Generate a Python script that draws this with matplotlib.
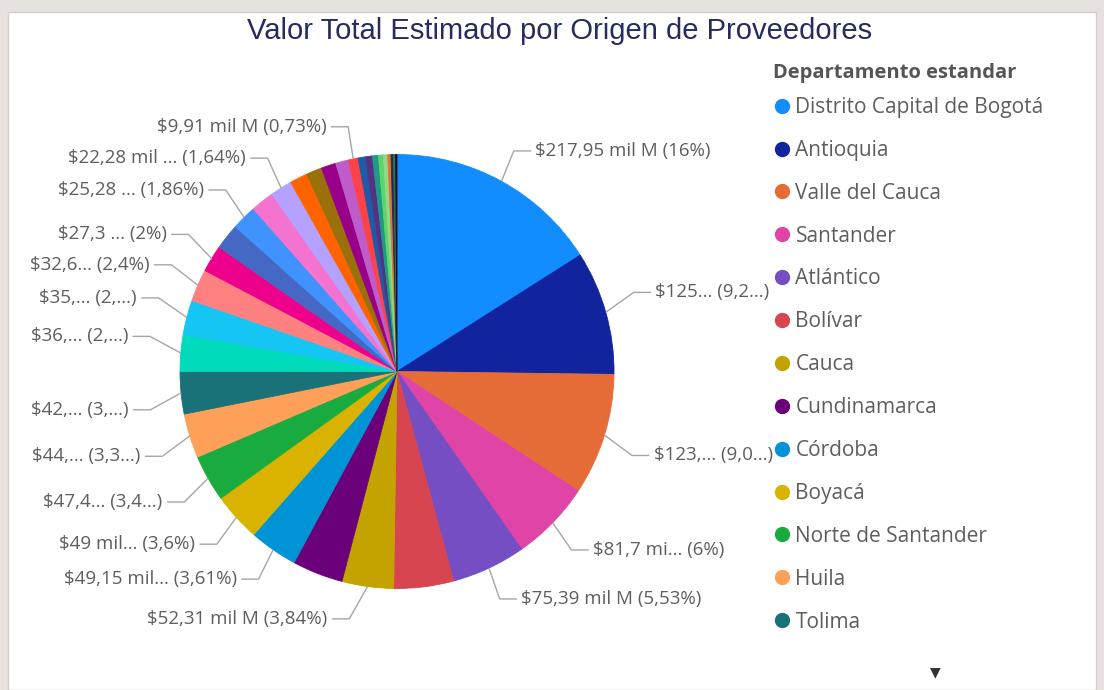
import numpy as np
import matplotlib
matplotlib.use("Agg")
import matplotlib.pyplot as plt
from matplotlib.lines import Line2D
from matplotlib.patches import Rectangle

# valores en miles de millones (mil M), ordenados como en el gráfico
departamentos = [
    "Distrito Capital de Bogotá", "Antioquia", "Valle del Cauca", "Santander",
    "Atlántico", "Bolívar", "Cauca", "Cundinamarca", "Córdoba", "Boyacá",
    "Norte de Santander", "Huila", "Tolima", "Meta", "Magdalena", "Nariño",
    "Caldas", "Risaralda", "Cesar", "Quindío", "Sucre", "La Guajira",
    "Casanare", "Chocó", "Caquetá", "Putumayo", "Arauca", "San Andrés",
    "Amazonas", "Guaviare", "Vichada", "Vaupés", "Guainía", "Extranjero",
    "No Definido",
]
valores = [
    217.95, 125.6, 123.4, 81.72, 75.39, 60.6, 52.31, 51.5, 49.15, 49.03,
    47.45, 44.98, 42.9, 36.9, 35.4, 32.65, 27.32, 26.2, 25.28, 23.6,
    22.28, 18.0, 16.0, 15.0, 13.0, 9.91, 7.5, 7.0, 6.0, 5.0,
    4.3, 3.3, 2.6, 2.0, 1.4,
]
colores = [
    "#118DFF", "#12239E", "#E66C37", "#E044A7", "#744EC2", "#D64550",
    "#C4A200", "#6B007B", "#0093D5", "#D9B300", "#1AAB40", "#FFA058",
    "#197278", "#00DBBC", "#15C6F4", "#FF8080", "#EC008C", "#4668C5",
    "#4092FF", "#F472D0", "#B5A1FF", "#FF6300", "#99700A", "#99008A",
    "#BE5DC9", "#FF4148", "#1F5AA6", "#533285", "#1F9A85", "#5BD667",
    "#8ED98E", "#E8702A", "#1A2B5F", "#2E7D32", "#0B0B3B",
]
etiquetas = [
    "$217,95 mil M (16%)", "$125... (9,2...)", "$123,... (9,0...)",
    "$81,7 mi... (6%)", "$75,39 mil M (5,53%)", None, "$52,31 mil M (3,84%)",
    None, "$49,15 mil... (3,61%)", "$49 mil... (3,6%)", "$47,4... (3,4...)",
    "$44,... (3,3...)", "$42,... (3,...)", "$36,... (2,...)", "$35,... (2,...)",
    "$32,6... (2,4%)", "$27,3 ... (2%)", None, "$25,28 ... (1,86%)", None,
    "$22,28 mil ... (1,64%)", None, None, None, None, "$9,91 mil M (0,73%)",
    None, None, None, None, None, None, None, None, None,
]
titulo = "Valor Total Estimado por Origen de Proveedores"
titulo_leyenda = "Departamento estandar"
n_leyenda = 13

W, H = 1104, 690
fig = plt.figure(figsize=(W / 100, H / 100), dpi=100, facecolor="#E8E2DF")
fig.add_artist(Rectangle((8 / W, 0), (1096 - 8) / W, (H - 12) / H,
                         transform=fig.transFigure, facecolor="white",
                         edgecolor="#D5CDC9", lw=1, zorder=0))

# pie: centro y radio en pixeles
cx, cy, R = 397, 371.5, 217
xr, yr = 1.8, 1.55
ax = fig.add_axes([(cx - xr * R) / W, (H - cy - yr * R) / H,
                   2 * xr * R / W, 2 * yr * R / H])
wedges, _ = ax.pie(valores, colors=colores, startangle=90, counterclock=False,
                   radius=1, wedgeprops=dict(linewidth=0.6))
for w, c in zip(wedges, colores):
    w.set_edgecolor(c)
ax.set_xlim(-xr, xr)
ax.set_ylim(-yr, yr)
ax.axis("off")

# etiquetas con lineas guia
lados = {1: [], -1: []}
for w, txt in zip(wedges, etiquetas):
    if txt is None:
        continue
    a = np.deg2rad((w.theta1 + w.theta2) / 2)
    x0, y0 = np.cos(a), np.sin(a)
    lado = 1 if x0 >= 0 else -1
    y_obj = 1.15 * y0 + 0.07 * np.sign(y0) * (1 - abs(y0))
    lados[lado].append([y_obj, x0, y0, txt])

gap = 0.14
for lado, items in lados.items():
    items.sort(key=lambda t: -t[0])
    for i in range(1, len(items)):
        if items[i][0] > items[i - 1][0] - gap:
            items[i][0] = items[i - 1][0] - gap
    for i in range(len(items) - 2, -1, -1):
        if items[i][0] < items[i + 1][0] + gap:
            items[i][0] = items[i + 1][0] + gap
    for ye, x0, y0, txt in items:
        xe = lado * max(np.sqrt(max(1.15 ** 2 - ye ** 2, 0.0)), 0.22)
        ax.plot([x0, xe, xe + lado * 0.08], [y0, ye, ye], color="#A6A6A6",
                lw=1, solid_capstyle="butt")
        ax.text(xe + lado * 0.1, ye, txt, ha="left" if lado > 0 else "right",
                va="center", fontsize=13.5, color="#605E5C", family="Open Sans")

fig.text(560 / W, 1 - 31 / H, titulo, ha="center", va="center", fontsize=21,
         color="#252C5E", family="Liberation Sans")

handles = [Line2D([], [], marker="o", linestyle="", markersize=10,
                  markerfacecolor=c, markeredgecolor=c)
           for c in colores[:n_leyenda]]
leg = ax.legend(handles, departamentos[:n_leyenda], loc="upper left",
                bbox_to_anchor=(773 / W, 1 - 97 / H),
                bbox_transform=fig.transFigure, frameon=False,
                prop=dict(family="Open Sans", size=15),
                handlelength=0.9, handletextpad=0.18, labelspacing=1.05,
                borderpad=0, borderaxespad=0)
for t in leg.get_texts():
    t.set_color("#605E5C")
fig.text(773 / W, 1 - 73 / H, titulo_leyenda, ha="left", va="center",
         fontsize=14.5, weight="bold", color="#555555", family="Open Sans")

fig.text(935 / W, 1 - 672 / H, "▼", ha="center", va="center", fontsize=10,
         color="#333333", family="DejaVu Sans")

fig.savefig("out.png", dpi=100, facecolor=fig.get_facecolor())
